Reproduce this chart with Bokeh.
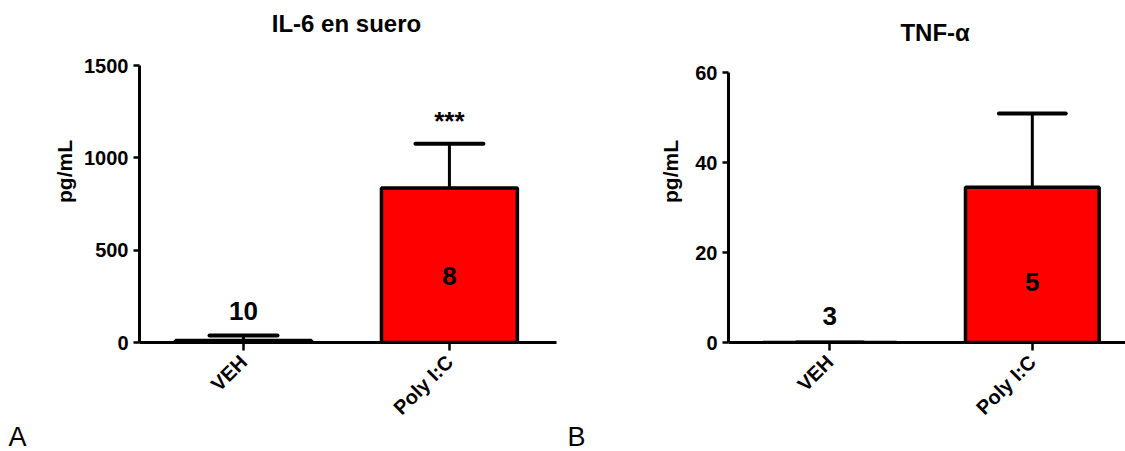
import math
from bokeh.plotting import figure
from bokeh.models import Range1d, FixedTicker, ColumnDataSource, Title
from bokeh.layouts import row
from bokeh.core.properties import value
from bokeh.embed import file_html
from bokeh.resources import INLINE

# ---- data ----
categories = ["VEH", "Poly I:C"]
il6_mean = [11, 837]
il6_sem = [27, 239]
il6_n = ["10", "8"]
tnf_mean = [0, 34.5]
tnf_sem = [0, 16.4]
tnf_n = ["3", "5"]
il6_ticks = [0, 500, 1000, 1500]
tnf_ticks = [0, 20, 40, 60]

FONT = "Liberation Sans"
RED = "#FF0000"


def panel(width, mb_left, mb_right, xr, ytop, yr_end, yticks,
          means, sems, ns, n_y, title, title_x, title_y, letter, letter_offset,
          stars=None, stars_y=None, label_standoff=5):
    p = figure(width=width, height=451, output_backend="svg", toolbar_location=None,
               x_range=Range1d(*xr), y_range=Range1d(0, yr_end), title_location=None,
               min_border_left=mb_left, min_border_right=mb_right,
               min_border_top=0, min_border_bottom=109)
    p.outline_line_color = None
    p.grid.visible = False
    p.background_fill_color = "white"
    p.border_fill_color = "white"

    idx = list(range(len(categories)))
    src = ColumnDataSource(dict(x=idx, top=means, up=[m + s for m, s in zip(means, sems)],
                                x0=[i - 0.165 for i in idx], x1=[i + 0.165 for i in idx],
                                n=ns, ny=n_y))
    # error bars (upper only)
    p.segment(x0="x", y0="top", x1="x", y1="up", source=src, line_color="black", line_width=3)
    p.segment(x0="x0", y0="up", x1="x1", y1="up", source=src, line_color="black", line_width=4,
              line_cap="round")
    p.vbar(x="x", top="top", bottom=0, width=0.66, source=src, fill_color=RED,
           line_color="black", line_width=3.5)
    p.text(x="x", y="ny", text="n", source=src, text_align="center", text_baseline="middle",
           text_font=value(FONT), text_font_style="bold", text_font_size="26px",
           text_color="black")
    if stars:
        p.text(x=[1], y=[stars_y], text=[stars], text_align="center", text_baseline="middle",
               text_font=value(FONT), text_font_style="bold", text_font_size="26px",
               text_color="black")
    # panel title
    p.text(x=[title_x], y=[title_y], text=[title], text_align="center", text_baseline="middle",
           text_font=value(FONT), text_font_style="bold", text_font_size="24px",
           text_color="black")

    # axes
    p.xaxis.ticker = FixedTicker(ticks=idx)
    p.xaxis.major_label_overrides = {i: c for i, c in zip(idx, categories)}
    p.xaxis.major_label_orientation = math.pi / 4
    p.yaxis.ticker = FixedTicker(ticks=yticks)
    p.yaxis.bounds = (0, ytop)
    p.yaxis.axis_label = "pg/mL"
    p.yaxis.axis_label_standoff = label_standoff
    for ax in (p.xaxis, p.yaxis):
        ax.axis_line_width = 3
        ax.axis_line_color = "black"
        ax.major_tick_line_width = 2.5
        ax.major_tick_in = 0
        ax.minor_tick_line_color = None
        ax.major_label_text_font = FONT
        ax.major_label_text_font_style = "bold"
        ax.major_label_text_font_size = "20px"
        ax.major_label_text_color = "black"
        ax.axis_label_text_font = FONT
        ax.axis_label_text_font_style = "bold"
        ax.axis_label_text_font_size = "21px"
        ax.axis_label_text_color = "black"
    p.xaxis.major_tick_out = 8
    p.yaxis.major_tick_out = 6
    p.xaxis.major_label_standoff = 8
    p.yaxis.major_label_standoff = 5

    p.add_layout(Title(text=letter, align="left", offset=letter_offset, text_font=FONT,
                       text_font_style="normal", text_font_size="27px", text_color="black",
                       standoff=-19), "below")
    return p


left = panel(560, 139, 4, (-0.505, 1.52), 1500, 1852, il6_ticks,
             il6_mean, il6_sem, il6_n, [168, 359], "IL-6 en suero", 0.5, 1727,
             "A", -131, stars="***", stars_y=1200, label_standoff=5)
right = panel(565, 728 - 560, 0, (-0.5, 1.46), 60, 76.0, tnf_ticks,
              tnf_mean, tnf_sem, tnf_n, [5.8, 13.5], "TNF-α", 0.52, 68.9,
              "B", -161, label_standoff=10)

layout = row(left, right, spacing=0)
open("out.html", "w").write(file_html(layout, INLINE))
